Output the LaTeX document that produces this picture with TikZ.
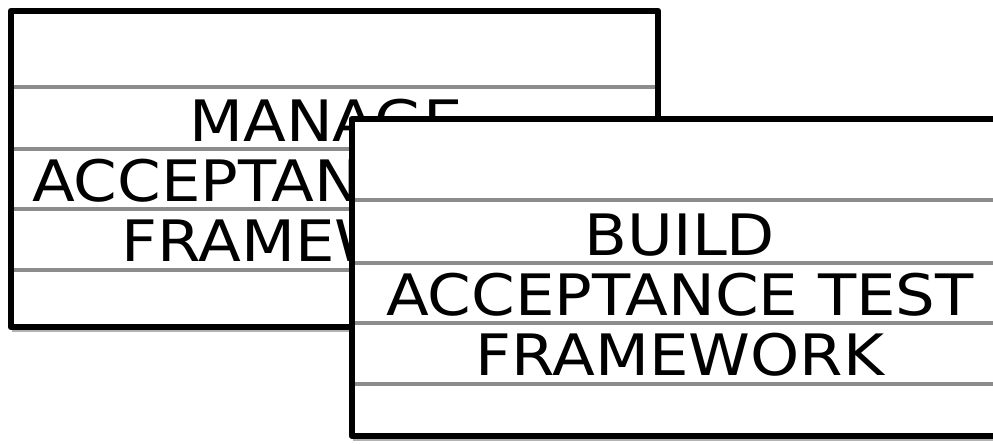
\documentclass[tikz,border=0pt]{standalone}
\usepackage{fontspec}
\setmainfont{DejaVu Sans}
\newfontfamily\cardfont[FakeStretch=1.095]{DejaVu Sans}
\usetikzlibrary{positioning, shadows}
\tikzset{
  card/.style={rectangle, fill=white, minimum width=12.94cm, minimum height=6.32cm,
               inner sep=0pt, drop shadow={shadow xshift=0.5pt, shadow yshift=-3pt, fill=black, opacity=0.3}},
  edge/.style={draw=black, line width=3.4pt, line join=round},
  rule/.style={draw=gray!90, line width=2.2pt},
  title/.style={align=center, inner sep=0pt, font=\cardfont\fontsize{32.5}{34.2}\selectfont},
}

\begin{document}
\begin{tikzpicture}[x=0.02cm, y=-0.02cm]
\useasboundingbox (0,0) rectangle (993,443);
\clip (0,0) rectangle (993,443);

% Hintere Karte
\node[card] (back) at (334.5,169) {};
\foreach \ry in {87,149,209,270}
  \draw[rule] (back.west |- 0,\ry) -- (back.east |- 0,\ry);
\draw[edge] (back.north west) rectangle (back.south east);
\node[title] (backtext) at (326,181) {MANAGE\\ ACCEPTANCE TEST\\ FRAMEWORK};

% Vordere Karte (verdeckt den Rest)
\node[card] (front) at (675.5,277.5) {};
\foreach \ry in {200,263,323,384}
  \draw[rule] (front.west |- 0,\ry) -- (front.east |- 0,\ry);
\draw[edge] (front.north west) rectangle (front.south east);
\node[title] (fronttext) at (680,295) {BUILD\\ ACCEPTANCE TEST\\ FRAMEWORK};
\end{tikzpicture}
\end{document}
